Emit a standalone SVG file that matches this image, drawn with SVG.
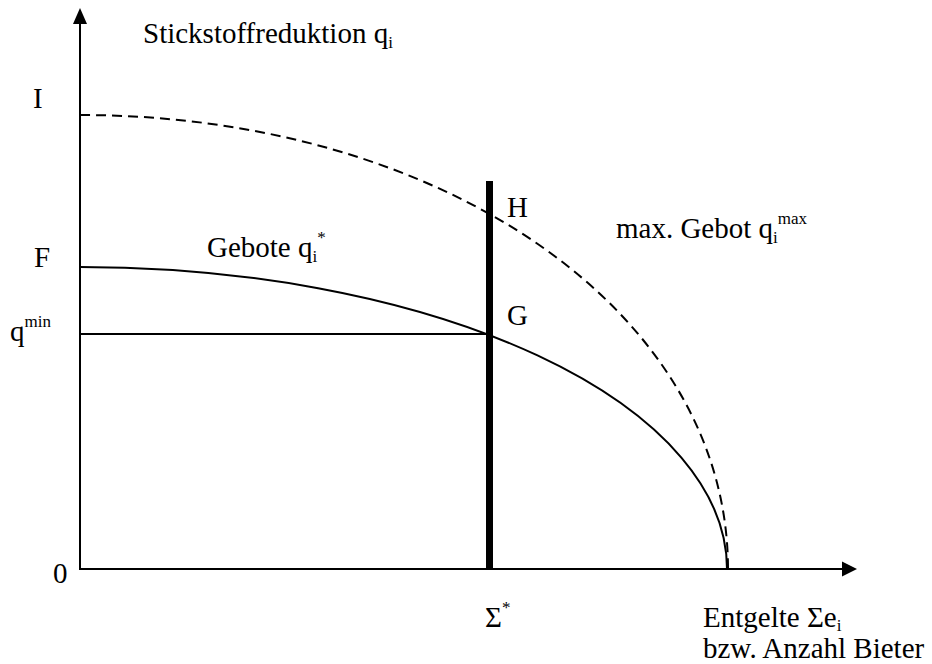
<svg xmlns="http://www.w3.org/2000/svg" width="932" height="664" viewBox="0 0 932 664">
<style>
text{font-family:"Liberation Serif","Times New Roman",serif;font-size:29px;fill:#000}
.s{font-size:17px}
.ln{stroke:#000;stroke-width:2;fill:none}
</style>
<rect width="932" height="664" fill="#fff"/>
<g id="axes">
<line class="ln" x1="80" y1="569" x2="80" y2="22"/>
<polygon points="80,8 73,24 87,24" fill="#000"/>
<line class="ln" x1="79" y1="569" x2="844" y2="569"/>
<polygon points="857,569 842,561.5 842,576.5" fill="#000"/>
</g>
<g id="curves">
<path class="ln" d="M80,115 C440,115 728,310 728,569" stroke-dasharray="10 6"/>
<path class="ln" d="M80,267 A647,302 0 0 1 727,569"/>
<line class="ln" x1="80" y1="334" x2="489" y2="334"/>
<line x1="489.5" y1="181" x2="489.5" y2="569" stroke="#000" stroke-width="7"/>
</g>
<g id="labels">
<text x="143" y="43">Stickstoffreduktion q<tspan class="s" y="48">i</tspan></text>
<text x="33" y="108">I</text>
<text x="34" y="267">F</text>
<text x="10" y="341">q<tspan class="s" y="327">min</tspan></text>
<text x="53" y="583">0</text>
<text x="207" y="257">Gebote q<tspan class="s" y="262">i</tspan><tspan class="s" y="243">*</tspan></text>
<text x="507" y="217">H</text>
<text x="507" y="325">G</text>
<text x="616" y="238">max. Gebot q<tspan class="s" y="243">i</tspan><tspan class="s" y="224">max</tspan></text>
<text x="485" y="627">Σ<tspan class="s" y="613">*</tspan></text>
<text x="703" y="627">Entgelte Σe<tspan class="s" y="631">i</tspan></text>
<text x="703" y="658">bzw. Anzahl Bieter</text>
</g>
</svg>
